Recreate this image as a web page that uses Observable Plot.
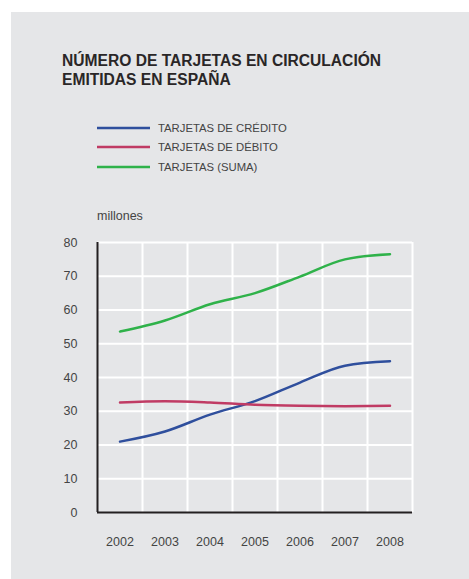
<!DOCTYPE html>
<html>
<head>
<meta charset="utf-8">
<script src="https://cdn.jsdelivr.net/npm/d3@7"></script>
<script src="https://cdn.jsdelivr.net/npm/@observablehq/plot@0.6"></script>
<style>
  html, body { margin: 0; padding: 0; background: #ffffff; }
  body { width: 469px; height: 579px; position: relative; overflow: hidden; font-family: "Liberation Sans", Arial, sans-serif; }
  #panel { position: absolute; left: 11px; top: 12px; width: 458px; height: 567px; background: #e5e6e8; }
  #title { position: absolute; left: 51px; top: 39px; font-size: 15.6px; font-weight: bold; line-height: 19px; color: #2a2627; margin: 0; }
  #legend { position: absolute; left: 86px; top: 106px; font-size: 11.3px; color: #444; }
  .item { display: flex; align-items: center; height: 19.5px; }
  .item svg { margin-right: 8px; }
  #unit { position: absolute; left: 86px; top: 197px; font-size: 12.5px; color: #444; }
  #chart { position: absolute; left: 0; top: 213px; }
</style>
</head>
<body>
<div id="panel">
  <div id="title">NÚMERO DE TARJETAS EN CIRCULACIÓN<br>EMITIDAS EN ESPAÑA</div>
  <div id="legend"></div>
  <div id="unit">millones</div>
  <div id="chart"></div>
</div>
<script>
const years = [2002, 2003, 2004, 2005, 2006, 2007, 2008];
const credito = [21.0, 24.0, 29.0, 33.0, 38.5, 43.5, 44.8];
const debito  = [32.6, 33.0, 32.6, 31.9, 31.6, 31.5, 31.6];
const suma    = [53.6, 56.9, 61.7, 65.0, 69.9, 75.0, 76.5];
const seriesNames = ["TARJETAS DE CRÉDITO", "TARJETAS DE DÉBITO", "TARJETAS (SUMA)"];
const seriesColors = ["#2f4f9d", "#c03b64", "#2fb24a"];
const yTicks = [0, 10, 20, 30, 40, 50, 60, 70, 80];

const seriesValues = [credito, debito, suma];
const rows = [];
seriesValues.forEach((vals, i) => vals.forEach((v, j) => rows.push({year: years[j], value: v, serie: seriesNames[i]})));

// legend
const legend = document.getElementById("legend");
seriesNames.forEach((name, i) => {
  const d = document.createElement("div");
  d.className = "item";
  d.innerHTML = `<svg width="53" height="4"><line x1="0" x2="53" y1="2" y2="2" stroke="${seriesColors[i]}" stroke-width="2.5"/></svg><span>${name}</span>`;
  legend.appendChild(d);
});

const boundaries = [years[0] - 0.5, ...years.map(y => y + 0.5)];

const chart = Plot.plot({
  width: 458,
  height: 335,
  marginLeft: 86,
  marginRight: 57,
  marginTop: 17,
  marginBottom: 48,
  style: { background: "transparent", fontFamily: "Liberation Sans, Arial, sans-serif", fontSize: "12.5px", color: "#444" },
  x: { domain: [years[0] - 0.5, years[years.length - 1] + 0.5], label: null },
  y: { domain: [0, 80], label: null },
  color: { domain: seriesNames, range: seriesColors },
  marks: [
    Plot.ruleY(yTicks.slice(1), { stroke: "#ffffff", strokeWidth: 2, strokeOpacity: 1 }),
    Plot.ruleX(boundaries.slice(1), { y1: 0, y2: 80, stroke: "#ffffff", strokeWidth: 2, strokeOpacity: 1 }),
    Plot.axisX(years, { tickSize: 0, tickPadding: 25, tickFormat: d => String(d), fontSize: 12.5, label: null }),
    Plot.axisY(yTicks, { tickSize: 0, tickPadding: 20, fontSize: 12.5, label: null }),
    Plot.line(rows, { x: "year", y: "value", stroke: "serie", z: "serie", strokeWidth: 2.5, curve: "monotone-x" }),
    Plot.ruleX([boundaries[0]], { y1: 0, y2: 80, stroke: "#231f20", strokeWidth: 2 }),
    Plot.ruleY([0], { x1: boundaries[0], x2: boundaries[boundaries.length - 1], stroke: "#231f20", strokeWidth: 2 })
  ]
});
document.getElementById("chart").appendChild(chart);
</script>
</body>
</html>
